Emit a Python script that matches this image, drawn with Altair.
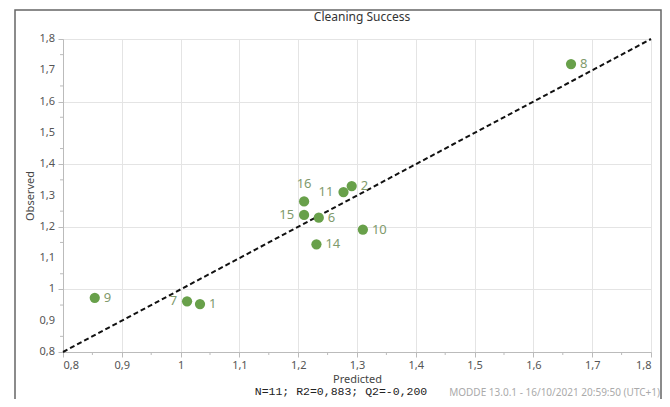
import altair as alt
import pandas as pd

ids = ["1", "2", "6", "7", "8", "9", "10", "11", "14", "15", "16"]
predicted = [1.033, 1.291, 1.235, 1.011, 1.664, 0.854, 1.310, 1.277, 1.231, 1.210, 1.210]
observed = [0.953, 1.330, 1.229, 0.962, 1.720, 0.973, 1.191, 1.311, 1.144, 1.238, 1.281]
label_pos = ["r", "r", "r", "l", "r", "r", "r", "l", "r", "l", "t"]

major_ticks = [0.8, 0.9, 1.0, 1.1, 1.2, 1.3, 1.4, 1.5, 1.6, 1.7, 1.8]
minor_ticks = [0.85, 0.95, 1.05, 1.15, 1.25, 1.35, 1.45, 1.55, 1.65, 1.75]
tick_labels = ["0,8", "0,9", "1", "1,1", "1,2", "1,3", "1,4", "1,5", "1,6", "1,7", "1,8"]
diag = [0.8, 1.8]

title_text = "Cleaning Success"
footer_text = "N=11; R2=0,883; Q2=-0,200"
stamp_text = "MODDE 13.0.1 - 16/10/2021 20:59:50 (UTC+1)"

df = pd.DataFrame({"id": ids, "Predicted": predicted, "Observed": observed, "pos": label_pos})
diag_df = pd.DataFrame({"Predicted": diag, "Observed": diag})
minor_df = pd.DataFrame({"v": minor_ticks})
major_df = pd.DataFrame({"v": major_ticks, "lab": tick_labels})

W, H = 588, 313
FONT = "Noto Sans"
label_expr = "replace(format(datum.value, '.2~f'), '.', ',')"


def axis(title, **kw):
    return alt.Axis(
        values=major_ticks, labelExpr=label_expr, title=title, grid=True,
        labelOverlap=False, gridColor="#e4e4e4", tickSize=5,
        domainColor="#bbbbbb", tickColor="#bbbbbb",
        labelFontSize=11, labelColor="#555555", labelFont=FONT,
        titleFont=FONT, titleFontSize=11, titleFontWeight="normal", titleColor="#444444",
        **kw)


xscale = alt.Scale(domain=[0.8, 1.8], nice=False, zero=False)
yscale = alt.Scale(domain=[0.8, 1.8], nice=False, zero=False)

xaxis = axis("Predicted", labelPadding=2, titleX=W / 2, titleY=27, titleAlign="center",
             titleBaseline="middle")
yaxis = axis("Observed", labels=False, titleX=-33, titleY=H / 2, titleAngle=270,
             titleAlign="center", titleBaseline="middle")

base = alt.Chart(df)

line = alt.Chart(diag_df).mark_line(color="#111111", strokeWidth=2, strokeDash=[5, 3]).encode(
    x=alt.X("Predicted:Q", scale=xscale, axis=xaxis),
    y=alt.Y("Observed:Q", scale=yscale, axis=yaxis),
)

# y tick labels (drawn through the y scale)
ylabels = alt.Chart(major_df).mark_text(align="right", baseline="middle", fontSize=11,
                                         font=FONT, color="#555555").encode(
    y=alt.Y("v:Q", scale=yscale), x=alt.value(-8), text="lab:N")

minor_x = alt.Chart(minor_df).mark_rule(color="#bbbbbb", strokeWidth=1).encode(
    x=alt.X("v:Q", scale=xscale), y=alt.value(H), y2=alt.value(H + 3))
minor_y = alt.Chart(minor_df).mark_rule(color="#bbbbbb", strokeWidth=1).encode(
    y=alt.Y("v:Q", scale=yscale), x=alt.value(-3), x2=alt.value(0))

pts = base.mark_circle(size=105, color="#68a04a", opacity=1).encode(
    x=alt.X("Predicted:Q", scale=xscale),
    y=alt.Y("Observed:Q", scale=yscale),
)

txt_style = dict(fontSize=13, color="#7f9a6c", font=FONT, baseline="middle")
lab_r = base.transform_filter("datum.pos == 'r'").mark_text(align="left", dx=9, **txt_style).encode(
    x="Predicted:Q", y="Observed:Q", text="id:N")
lab_l = base.transform_filter("datum.pos == 'l'").mark_text(align="right", dx=-10, **txt_style).encode(
    x="Predicted:Q", y="Observed:Q", text="id:N")
lab_t = base.transform_filter("datum.pos == 't'").mark_text(align="center", dy=-17, **txt_style).encode(
    x="Predicted:Q", y="Observed:Q", text="id:N")

one = pd.DataFrame({"t": [title_text], "f": [footer_text], "s": [stamp_text]})
title = alt.Chart(one).mark_text(fontSize=12, font=FONT, color="#333333", align="center",
                                 baseline="middle").encode(
    x=alt.value(299), y=alt.value(-22), text="t:N")
footer = alt.Chart(one).mark_text(fontSize=11.5, font="Liberation Mono", color="#222222",
                                  align="center", baseline="middle").encode(
    x=alt.value(278), y=alt.value(353), text="f:N")
stamp = alt.Chart(one).mark_text(fontSize=10, font=FONT, color="#aaaaaa", align="right",
                                 baseline="middle").encode(
    x=alt.value(597), y=alt.value(354), text="s:N")
frame = alt.Chart(one).mark_rect(fill=None, stroke="#666666", strokeWidth=1.5).encode(
    x=alt.value(-48), x2=alt.value(598), y=alt.value(-29), y2=alt.value(420))

chart = alt.layer(line, ylabels, minor_x, minor_y, pts, lab_r, lab_l, lab_t, title, footer,
                  stamp, frame).properties(
    width=W, height=H,
    autosize=alt.AutoSizeParams(type="none"),
    padding={"left": 55, "top": 31, "right": 11, "bottom": 47},
).configure_view(stroke="#cccccc").configure(background="white")

chart.save("out.html", embed_options={"renderer": "svg", "actions": False})
